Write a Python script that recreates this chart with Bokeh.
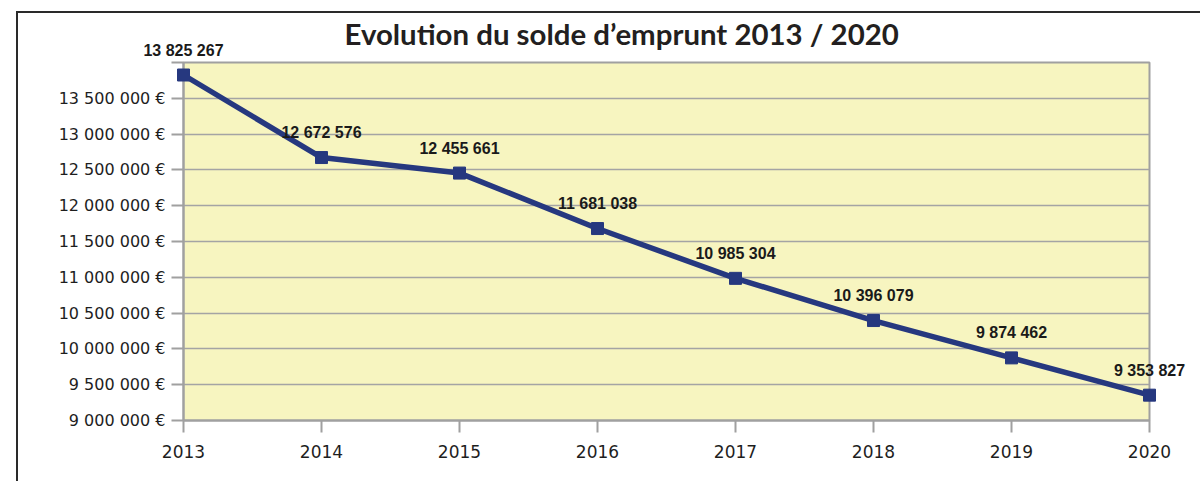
from bokeh.plotting import figure
from bokeh.models import ColumnDataSource, Range1d, FixedTicker
from bokeh.core.properties import value
from bokeh.embed import file_html
from bokeh.resources import INLINE

years = [2013, 2014, 2015, 2016, 2017, 2018, 2019, 2020]
solde = [13825267, 12672576, 12455661, 11681038, 10985304, 10396079, 9874462, 9353827]
y_tick_values = [9000000, 9500000, 10000000, 10500000, 11000000, 11500000,
                 12000000, 12500000, 13000000, 13500000, 14000000]
y_tick_labels = ["9 000 000 €", "9 500 000 €", "10 000 000 €", "10 500 000 €",
                 "11 000 000 €", "11 500 000 €", "12 000 000 €", "12 500 000 €",
                 "13 000 000 €", "13 500 000 €", ""]
title_text = "Evolution du solde d\u2019emprunt 2013 / 2020"

labels = [f"{v:,}".replace(",", " ") for v in solde]
src = ColumnDataSource(dict(year=years, value=solde, label=labels))

x_range = Range1d(2013, 2020)
y_range = Range1d(9000000, 14000000)

p = figure(width=1184, height=470, output_backend="svg", toolbar_location=None,
           x_range=x_range, y_range=y_range,
           min_border_left=165, min_border_right=53, min_border_top=49,
           min_border_bottom=63)
p.margin = (11, 0, 0, 16)
p.styles = {"border-left": "2px solid #2a2a2a", "border-top": "2px solid #2a2a2a"}

p.background_fill_color = "#f7f5c0"
p.border_fill_color = "white"
p.outline_line_color = "#a0a0a0"
p.outline_line_width = 2

p.xgrid.visible = False
p.ygrid.grid_line_color = "#a4a4a4"
p.ygrid.grid_line_width = 1.6

for ax in (p.xaxis[0], p.yaxis[0]):
    ax.axis_line_color = "#a0a0a0"
    ax.axis_line_width = 2
    ax.major_tick_line_color = "#a0a0a0"
    ax.major_tick_line_width = 2
    ax.major_tick_out = 12
    ax.major_tick_in = 0
    ax.minor_tick_line_color = None
    ax.major_label_text_font = "DejaVu Sans"
    ax.major_label_text_color = "#1e1e1e"

p.xaxis.ticker = FixedTicker(ticks=years)
p.xaxis.major_label_text_font_size = "17px"
p.xaxis.major_label_standoff = 12
p.yaxis.ticker = FixedTicker(ticks=y_tick_values)
p.yaxis.major_label_overrides = {v: l for v, l in zip(y_tick_values, y_tick_labels)}
p.yaxis.major_label_text_font_size = "16px"
p.yaxis.major_label_standoff = 6

p.line("year", "value", source=src, line_color="#26387f", line_width=5.5, level="overlay")
p.scatter("year", "value", source=src, marker="square", size=12,
          fill_color="#26387f", line_color="#26387f", level="overlay")

p.text("year", "value", text="label", source=src, text_align="center",
       text_baseline="alphabetic", y_offset=-25, text_font=value("Liberation Sans"),
       text_font_style="bold", text_font_size="16px", text_color="#1a1a1a",
       level="overlay")

# chart title, placed above the plot frame (top-left corner of the frame + offsets)
p.text(x=[x_range.start], y=[y_range.end], text=[title_text], text_align="left",
       text_baseline="alphabetic", x_offset=161, y_offset=-29,
       text_font=value("Lato"), text_font_style="bold", text_font_size="29.4px",
       text_color="#231f20", level="overlay")

open("out.html", "w").write(file_html(p, INLINE))
